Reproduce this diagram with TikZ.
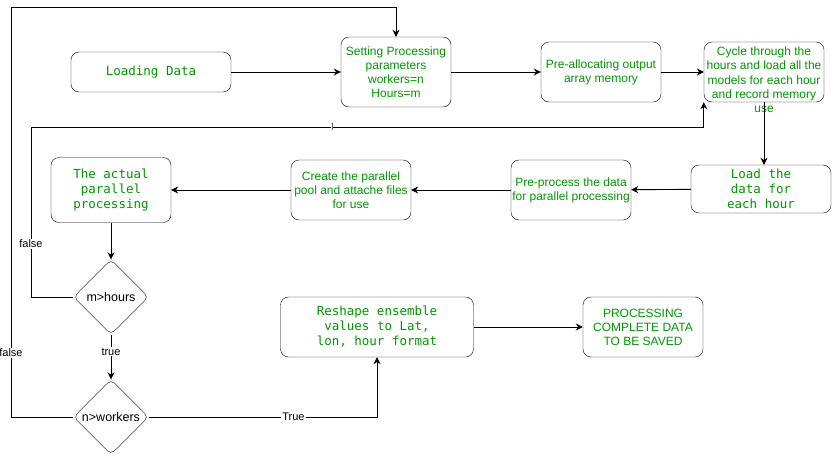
\documentclass[tikz,border=0pt]{standalone}
\usepackage{fontspec}
\setmainfont{Liberation Sans}
\newfontfamily\monofont{DejaVu Sans Mono}
\usetikzlibrary{shapes.geometric,arrows.meta}
\definecolor{txtgreen}{RGB}{0,150,0}

\begin{document}
\begin{tikzpicture}[x=1pt, y=-1pt, auto]
	\tikzstyle{block} = [ draw, rounded corners=8pt, thin, align=center, text=txtgreen, inner sep=1pt, font={\fontsize{12}{14}\selectfont}];
	\tikzstyle{mono} = [ block, font={\monofont\fontsize{12.5}{15}\selectfont}];
	\tikzstyle{decision} = [ draw, diamond, aspect=1, rounded corners=5pt, inner sep=0pt, minimum size=75pt, font={\fontsize{12.5}{14}\selectfont}];
	\tikzstyle{flow} = [ ->, >={Stealth[length=7pt, width=7pt]}, line width=0.9pt];
	\tikzstyle{elabel} = [ auto=false, anchor=center, fill=white, inner sep=1pt, font={\fontsize{11}{12}\selectfont}];

	\useasboundingbox (0,0) rectangle (837,458);

	% top row
	\node[mono, minimum width=160pt, minimum height=40pt] (load) at (151,72) {Loading Data};
	\node[block, minimum width=110pt, minimum height=70pt] (setting) at (396,72) {Setting Processing\\parameters\\workers=n\\Hours=m};
	\node[block, minimum width=120pt, minimum height=60pt] (prealloc) at (601,72) {Pre-allocating output\\array memory};
	\node[block, minimum width=120pt, minimum height=60pt] (cycle) at (764,72) {};
	\node[text=txtgreen, align=center, font={\fontsize{12}{14.3}\selectfont}] (cycletxt) at ([yshift=-8pt]cycle.center) {Cycle through the\\hours and load all the\\models for each hour\\and record memory\\use};

	% middle row
	\node[mono, minimum width=140pt, minimum height=48pt] (loadhr) at (761,189) {Load the\\data for\\each hour};
	\node[block, minimum width=120pt, minimum height=60pt] (preproc) at (571,190) {Pre-process the data\\for parallel processing};
	\node[block, minimum width=120pt, minimum height=60pt] (create) at (351,190) {Create the parallel\\pool and attache files\\for use};
	\node[mono, minimum width=120pt, minimum height=65pt] (actual) at (111,190) {The actual\\parallel\\processing};

	% decisions and output
	\node[decision] (mhours) at (111,297) {m>hours};
	\node[decision] (nworkers) at (111,417) {n>workers};
	\node[mono, minimum width=193pt, minimum height=60pt] (reshape) at (377,327) {Reshape ensemble\\values to Lat,\\lon, hour format};
	\node[block, minimum width=120pt, minimum height=60pt] (saved) at (643,327) {PROCESSING\\COMPLETE DATA\\TO BE SAVED};

	\coordinate (mloop) at (31,127);
	\coordinate (nloop) at (11,7);

	\foreach \a/\b in {load/setting,setting/prealloc,prealloc/cycle,loadhr/preproc,preproc/create,create/actual,actual/mhours,reshape/saved} {
		\draw[flow] (\a) -- (\b);
	}
	\draw[flow] (cycle.south) -- (cycle.south |- loadhr.north);
	\draw[flow] (mhours) -- node[elabel, pos=0.38]{true} (nworkers);

	\draw[flow] (mhours.west) -| node[elabel, pos=0.656]{false} (mloop) -| node[elabel, pos=0.224, inner sep=0pt, font={\fontsize{7}{7}\selectfont}]{]} (cycle.south west);
	\draw[flow] (nworkers.west) -| node[elabel, pos=0.578]{false} (nloop) -| (setting.north);
	\draw[flow] (nworkers.east) -| node[elabel, pos=0.317]{True} (reshape.south);
\end{tikzpicture}
\end{document}
